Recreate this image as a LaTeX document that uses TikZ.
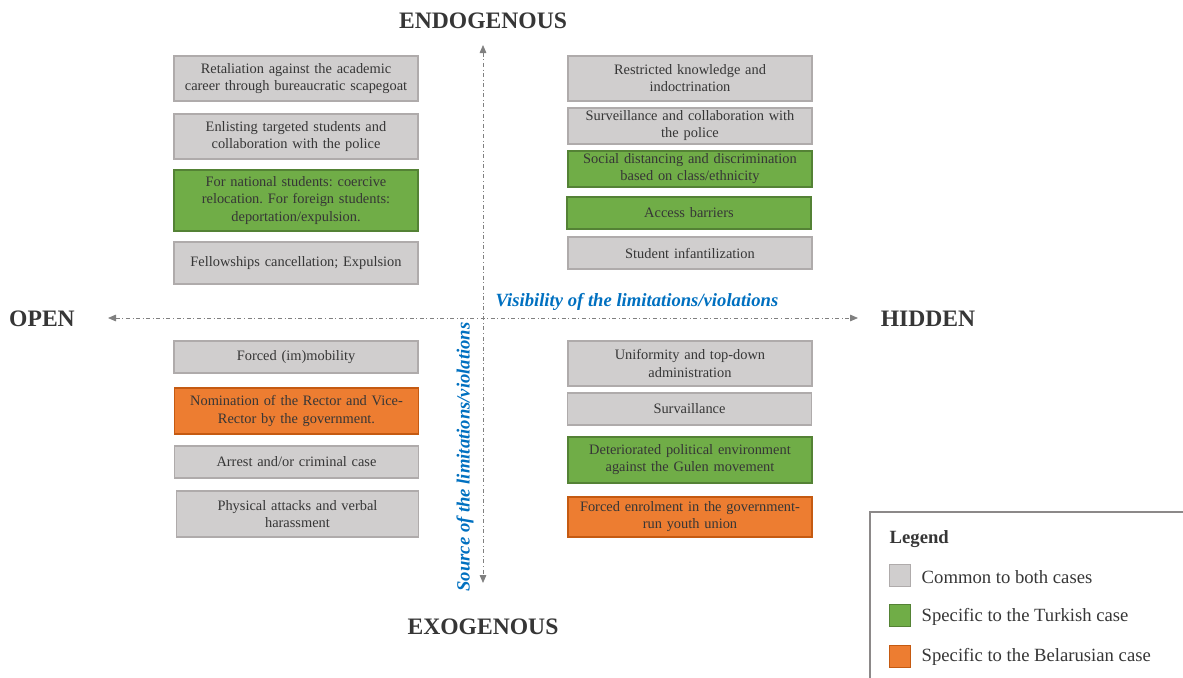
\documentclass[tikz,border=0pt]{standalone}
\usepackage{fontspec}
\setmainfont{Liberation Serif}
\usetikzlibrary{arrows.meta}
\frenchspacing
\definecolor{txt}{HTML}{363636}
\definecolor{cgray}{HTML}{D0CECE}
\definecolor{cgrayd}{HTML}{AFABAB}
\definecolor{cgreen}{HTML}{70AD47}
\definecolor{cgreend}{HTML}{548235}
\definecolor{corange}{HTML}{ED7D31}
\definecolor{corganged}{HTML}{C55A11}
\definecolor{axgray}{HTML}{808080}
\definecolor{axblue}{HTML}{0070C0}
\begin{document}
\begin{tikzpicture}[x=0.75pt,y=-0.75pt,
    item/.style={minimum width=183pt,text width=180pt,align=center,inner sep=1pt,line width=0.8pt,text=txt,font=\fontsize{10.8}{12.8}\selectfont},
    common/.style={item,fill=cgray,draw=cgrayd},
    turkish/.style={item,fill=cgreen,draw=cgreend},
    belarus/.style={item,fill=corange,draw=corganged},
    pole/.style={text=txt,font=\bfseries\fontsize{17.7}{20}\selectfont},
    axlabel/.style={text=axblue,font=\bfseries\itshape\fontsize{14}{16}\selectfont},
    axis/.style={axgray,line width=0.6pt,dash pattern=on 3pt off 2pt on 0.6pt off 2pt,{Triangle[length=6pt,width=5pt]}-{Triangle[length=6pt,width=5pt]}},
    key/.style={minimum size=16pt,inner sep=0pt,line width=0.8pt},
    keytext/.style={anchor=west,text=txt,font=\fontsize{14}{16}\selectfont}]
    \useasboundingbox (0,0) rectangle (1183,678);
    \coordinate (top) at (483,45);
    \coordinate (bottom) at (483,583);
    \coordinate (left) at (108,318);
    \coordinate (right) at (858,318);
    \draw[axis] (top) -- (bottom);
    \draw[axis] (left) -- (right);
    \node[pole] (endo) at (483,21) {ENDOGENOUS};
    \node[pole] (exo) at (483,627) {EXOGENOUS};
    \node[pole] (open) at (42,319) {OPEN};
    \node[pole] (hidden) at (928,319) {HIDDEN};
    \node[axlabel,anchor=west] (vis) at (491,302) {Visibility of the limitations/violations};
    \node[axlabel,rotate=90] (src) at (465,457) {Source of the limitations/violations};
    \node[common,minimum height=33.75pt] (ret) at (296,78.5) {Retaliation against the academic\\career through bureaucratic scapegoat};
    \node[common,minimum height=33.75pt] (enlist) at (296,136.5) {Enlisting targeted students and\\collaboration with the police};
    \node[turkish,minimum height=45.75pt] (reloc) at (296,200.5) {For national students: coercive\\relocation. For foreign students:\\deportation/expulsion.};
    \node[common,minimum height=31.5pt] (fellow) at (296,263) {Fellowships cancellation; Expulsion};
    \node[common,minimum height=33.75pt] (restr) at (690,78.5) {Restricted knowledge and\\indoctrination};
    \node[common,minimum height=27pt] (surv) at (690,126) {Surveillance and collaboration with\\the police};
    \node[turkish,minimum height=27pt] (socdist) at (690,169) {Social distancing and discrimination\\based on class/ethnicity};
    \node[turkish,minimum height=24pt] (access) at (689,213) {Access barriers};
    \node[common,minimum height=24pt] (infant) at (690,253) {Student infantilization};
    \node[common,minimum height=24pt] (mobil) at (296,357) {Forced (im)mobility};
    \node[belarus,minimum height=34.5pt] (nomin) at (296.5,411) {Nomination of the Rector and Vice-\\Rector by the government.};
    \node[common,minimum height=24pt] (arrest) at (296.5,462) {Arrest and/or criminal case};
    \node[common,minimum height=34.5pt,minimum width=181pt] (attack) at (297.5,514) {Physical attacks and verbal\\harassment};
    \node[common,minimum height=33.75pt] (uniform) at (690,363.5) {Uniformity and top-down\\administration};
    \node[common,minimum height=24pt] (survail) at (689.5,409) {Survaillance};
    \node[turkish,minimum height=34.5pt] (gulen) at (690,460) {Deteriorated political environment\\against the Gulen movement};
    \node[belarus,minimum height=30pt] (enrol) at (690,517) {Forced enrolment in the government-\\run youth union};
    \draw[cgrayd!80!black,line width=0.8pt] (1183,512) -| (870,678);
    \node[anchor=west,text=txt,font=\bfseries\fontsize{14}{16}\selectfont] (legend) at (885,539) {Legend};
    \node[key,fill=cgray,draw=cgrayd] (kgray) at (900,575.5) {};
    \node[key,fill=cgreen,draw=cgreend] (kgreen) at (900,615.5) {};
    \node[key,fill=corange,draw=corganged] (korange) at (900,656.5) {};
    \node[keytext] (lgray) at (917,577) {Common to both cases};
    \node[keytext] (lgreen) at (917,617) {Specific to the Turkish case};
    \node[keytext] (lorange) at (917,657) {Specific to the Belarusian case};
\end{tikzpicture}
\end{document}
